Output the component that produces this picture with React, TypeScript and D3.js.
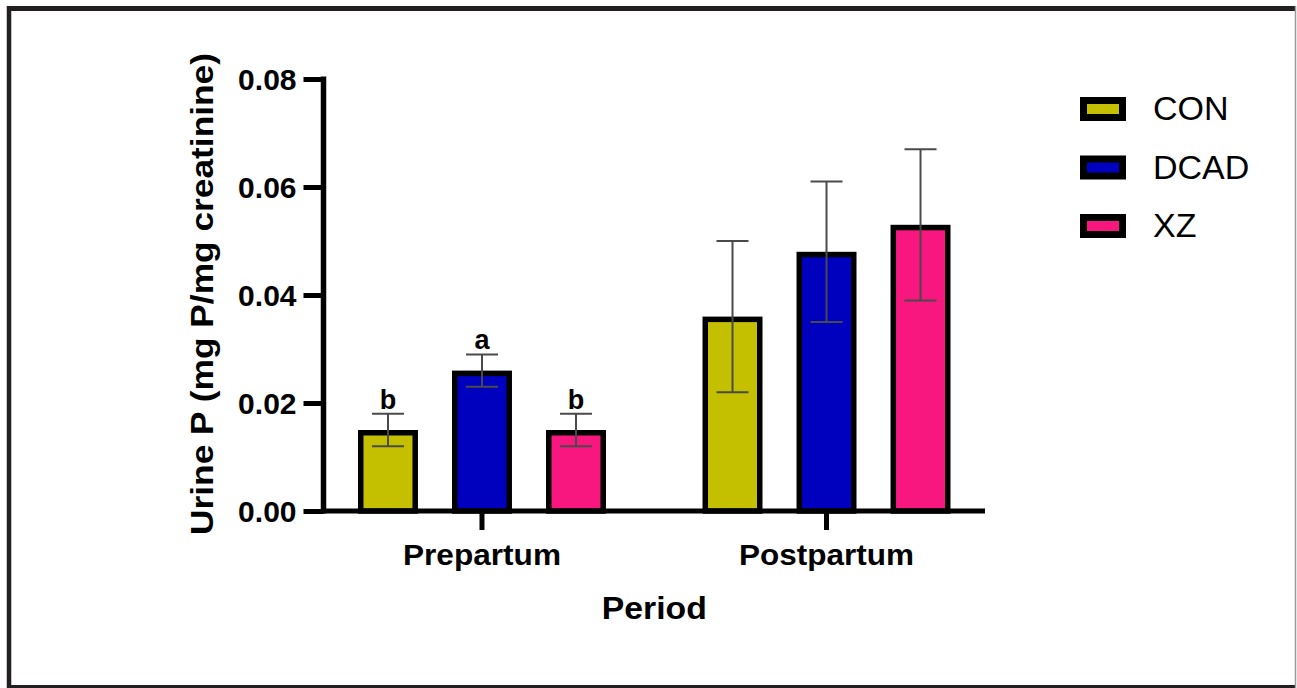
import React, { useEffect, useRef } from 'react';
import * as d3 from 'd3';

// data
const periods = ['Prepartum', 'Postpartum'];
const groups = ['CON', 'DCAD', 'XZ'];
const groupColors = ['#c4c000', '#0000bf', '#f7177f'];

const conMean = [0.015, 0.036];
const dcadMean = [0.026, 0.048];
const xzMean = [0.015, 0.053];

const conSem = [0.003, 0.014];
const dcadSem = [0.003, 0.013];
const xzSem = [0.003, 0.014];

// significance letters
const conLetters = ['b', ''];
const dcadLetters = ['a', ''];
const xzLetters = ['b', ''];

const yTicks = [0, 0.02, 0.04, 0.06, 0.08];

const FONT = '"Liberation Sans", Arial, sans-serif';

const App = () => {
    const ref = useRef<SVGSVGElement>(null);

    useEffect(() => {
        const width = 1297;
        const height = 688;
        const svg = d3.select(ref.current);
        svg.selectAll('*').remove();
        svg.attr('width', width).attr('height', height);

        // frame
        svg.append('rect').attr('width', width).attr('height', height).attr('fill', '#fff');
        svg.append('line').attr('x1', 7).attr('x2', 1296).attr('y1', 8.5).attr('y2', 8.5)
            .attr('stroke', '#231f20').attr('stroke-width', 5);
        svg.append('line').attr('x1', 9).attr('x2', 9).attr('y1', 6).attr('y2', 688)
            .attr('stroke', '#231f20').attr('stroke-width', 4.5);
        svg.append('line').attr('x1', 7).attr('x2', 1296).attr('y1', 686.5).attr('y2', 686.5)
            .attr('stroke', '#231f20').attr('stroke-width', 3);
        svg.append('line').attr('x1', 1295.5).attr('x2', 1295.5).attr('y1', 6).attr('y2', 688)
            .attr('stroke', '#9a9a9a').attr('stroke-width', 1.5);

        const x0 = 323.5, x1 = 985, yBottom = 511, yTop = 79;

        const y = d3.scaleLinear().domain([0, 0.08]).range([yBottom, yTop]);
        const xPeriod = d3.scaleBand().domain(periods).range([x0, x1])
            .paddingInner(0.2).paddingOuter(0.06);
        const xGroup = d3.scaleBand().domain(groups).range([0, xPeriod.bandwidth()])
            .paddingInner(0.362).paddingOuter(0.147);

        const means = [conMean, dcadMean, xzMean];
        const sems = [conSem, dcadSem, xzSem];
        const letters = [conLetters, dcadLetters, xzLetters];

        const rows: any[] = [];
        periods.forEach((p, pi) => {
            groups.forEach((g, gi) => {
                rows.push({ period: p, group: g, gi, mean: means[gi][pi], sem: sems[gi][pi], letter: letters[gi][pi] });
            });
        });

        const bw = xGroup.bandwidth();
        const sw = 5.5;
        const bars = svg.append('g').selectAll('g').data(rows).enter().append('g')
            .attr('transform', d => `translate(${(xPeriod(d.period) as number) + (xGroup(d.group) as number)},0)`);

        bars.append('rect')
            .attr('x', sw / 2)
            .attr('y', d => y(d.mean) + sw / 2)
            .attr('width', bw - sw)
            .attr('height', d => yBottom - y(d.mean) - sw / 2)
            .attr('fill', d => groupColors[d.gi])
            .attr('stroke', '#000')
            .attr('stroke-width', sw);

        // error bars
        const cap = 16;
        const errColor = '#4a4a4a';
        bars.append('line')
            .attr('x1', bw / 2).attr('x2', bw / 2)
            .attr('y1', d => y(d.mean + d.sem)).attr('y2', d => y(d.mean - d.sem))
            .attr('stroke', errColor).attr('stroke-width', 2);
        bars.append('line')
            .attr('x1', bw / 2 - cap).attr('x2', bw / 2 + cap)
            .attr('y1', d => y(d.mean + d.sem)).attr('y2', d => y(d.mean + d.sem))
            .attr('stroke', errColor).attr('stroke-width', 2);
        bars.append('line')
            .attr('x1', bw / 2 - cap).attr('x2', bw / 2 + cap)
            .attr('y1', d => y(d.mean - d.sem)).attr('y2', d => y(d.mean - d.sem))
            .attr('stroke', errColor).attr('stroke-width', 2);

        bars.append('text')
            .attr('x', bw / 2)
            .attr('y', d => y(d.mean + d.sem) - 5)
            .attr('text-anchor', 'middle')
            .attr('font-family', FONT)
            .attr('font-weight', 'bold')
            .attr('font-size', 27)
            .attr('fill', '#000')
            .text(d => d.letter);

        // y axis
        const yAxis = d3.axisLeft(y).tickValues(yTicks).tickSize(20).tickSizeOuter(0)
            .tickPadding(7).tickFormat(d3.format('.2f'));
        const gy = svg.append('g').attr('transform', `translate(${x0},0)`).call(yAxis);
        gy.select('.domain').attr('stroke', '#000').attr('stroke-width', 5.5)
            .attr('d', `M0,${yTop - 2.5}V${yBottom + 2.5}`);
        gy.selectAll('.tick line').attr('stroke', '#000').attr('stroke-width', 5);
        gy.selectAll('.tick text').attr('font-family', FONT).attr('font-weight', 'bold')
            .attr('font-size', 30).attr('fill', '#000').attr('dy', '0.36em');

        // x axis
        const xAxis = d3.axisBottom(xPeriod).tickSize(19).tickSizeOuter(0).tickPadding(12);
        const gx = svg.append('g').attr('transform', `translate(0,${yBottom})`).call(xAxis);
        gx.select('.domain').attr('stroke', '#000').attr('stroke-width', 5)
            .attr('d', `M${x0 - 2.5},0H${x1}`);
        gx.selectAll('.tick line').attr('stroke', '#000').attr('stroke-width', 5);
        gx.selectAll('.tick text').attr('font-family', FONT).attr('font-weight', 'bold')
            .attr('font-size', 29).attr('fill', '#000')
            .attr('y', 54).attr('dy', null)
            .attr('textLength', (d: any) => (d === 'Prepartum' ? 158 : 175))
            .attr('lengthAdjust', 'spacingAndGlyphs');

        // axis titles
        svg.append('text')
            .attr('transform', `translate(${213},${294}) rotate(-90)`)
            .attr('text-anchor', 'middle')
            .attr('font-family', FONT).attr('font-weight', 'bold').attr('font-size', 31)
            .attr('textLength', 482).attr('lengthAdjust', 'spacingAndGlyphs')
            .attr('fill', '#000')
            .text('Urine P (mg P/mg creatinine)');
        svg.append('text')
            .attr('x', (x0 + x1) / 2).attr('y', 619)
            .attr('text-anchor', 'middle')
            .attr('font-family', FONT).attr('font-weight', 'bold').attr('font-size', 32)
            .attr('textLength', 105).attr('lengthAdjust', 'spacingAndGlyphs')
            .attr('fill', '#000')
            .text('Period');

        // legend
        const legend = svg.append('g').selectAll('g').data(groups).enter().append('g')
            .attr('transform', (d, i) => `translate(1080,${97 + i * 58.5})`);
        legend.append('rect').attr('width', 46).attr('height', 24).attr('fill', '#000');
        legend.append('rect').attr('x', 7).attr('y', 7).attr('width', 32).attr('height', 10)
            .attr('fill', (d, i) => groupColors[i]);
        legend.append('text')
            .attr('x', 73).attr('y', 23)
            .attr('font-family', FONT).attr('font-size', 34).attr('fill', '#000')
            .text(d => d);
    }, []);

    return <svg ref={ref} style={{ position: 'absolute', left: 0, top: 0, display: 'block' }} />;
};

export default App;
